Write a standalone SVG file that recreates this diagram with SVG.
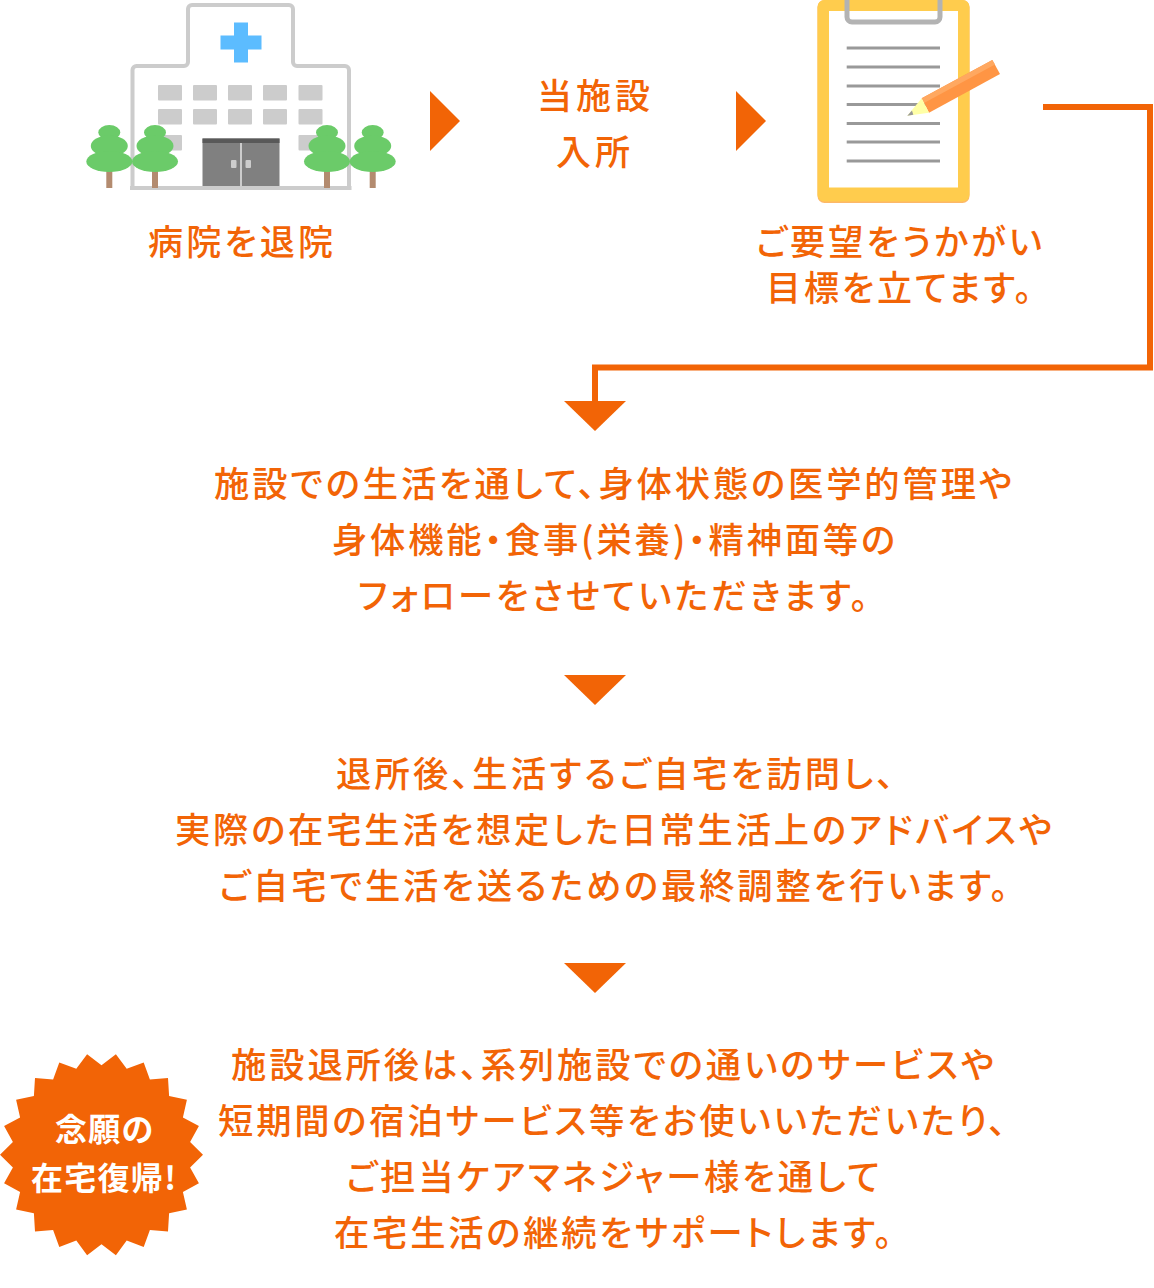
<svg xmlns="http://www.w3.org/2000/svg" width="1154" height="1288" viewBox="0 0 1154 1288">
<style>
text{font-family:"Noto Sans CJK JP","Noto Sans",sans-serif;font-weight:500;font-size:35.300px;fill:#f26406;font-feature-settings:"palt";}
.s{font-size:35px}
.b{font-size:32px;fill:#fff;font-weight:700}
.o{fill:#f26406}
.w{fill:#ccc}
.t{fill:#6bcb69}
.k{fill:#b38b6f}
.l{stroke:#999;stroke-width:3;fill:none}
</style>
<defs>
<g id="tree"><rect class="k" x="-3" y="168" width="6" height="20"/><ellipse class="t" cx="0" cy="132.500" rx="11" ry="7.500"/><ellipse class="t" cx="0" cy="146" rx="18.500" ry="10.500"/><ellipse class="t" cx="0" cy="161.500" rx="23" ry="10.500"/></g>
<polygon id="ad" class="o" points="-31,0 31,0 0,30"/>
<polygon id="ar" class="o" points="0,0 30,30 0,60"/>
</defs>
<rect width="1154" height="1288" fill="#fff"/>
<g id="hospital">
<path d="M132.500,188V70a4,4 0 0 1 4,-4H184a4,4 0 0 0 4,-4V9a4,4 0 0 1 4,-4H289a4,4 0 0 1 4,4V62a4,4 0 0 0 4,4H345a4,4 0 0 1 4,4V188" fill="#fff" stroke="#ccc" stroke-width="4"/>
<path d="M234,22.500h14v13h13.500v14H248v13h-14v-13H220.500v-14H234z" fill="#5cbcff"/>
<g class="w">
<rect x="158" y="85" width="24" height="15.500" rx="1"/><rect x="193" y="85" width="24" height="15.500" rx="1"/><rect x="228" y="85" width="24" height="15.500" rx="1"/><rect x="263" y="85" width="24" height="15.500" rx="1"/><rect x="298.500" y="85" width="24" height="15.500" rx="1"/>
<rect x="158" y="109" width="24" height="15.500" rx="1"/><rect x="193" y="109" width="24" height="15.500" rx="1"/><rect x="228" y="109" width="24" height="15.500" rx="1"/><rect x="263" y="109" width="24" height="15.500" rx="1"/><rect x="298.500" y="109" width="24" height="15.500" rx="1"/>
<rect x="158" y="135" width="24" height="15.500" rx="1"/><rect x="298.500" y="135" width="24" height="15.500" rx="1"/>
</g>
<rect x="202.500" y="138.500" width="77" height="48" fill="#808080"/>
<rect x="202.500" y="138.500" width="77" height="4.500" fill="#595959"/>
<rect x="240" y="143" width="2" height="44" fill="#ccc"/>
<rect x="231" y="160" width="5.500" height="8" rx="1" fill="#ccc"/>
<rect x="245.500" y="160" width="5.500" height="8" rx="1" fill="#ccc"/>
<rect x="130" y="186" width="221.500" height="4" fill="#ccc"/>
<use href="#tree" x="109.300"/><use href="#tree" x="155"/><use href="#tree" x="327"/><use href="#tree" x="372.700"/>
</g>
<g id="clipboard">
<rect x="817.500" y="0" width="152" height="203" rx="7" fill="#fdb868"/>
<rect x="817.500" y="0" width="152" height="201.500" rx="7" fill="#ffcc4d"/>
<rect x="829" y="11" width="129" height="176.500" fill="#fff"/>
<path d="M847,0V17a5,5 0 0 0 5,5H935a5,5 0 0 0 5,-5V0" fill="none" stroke="#b3b3b3" stroke-width="5"/>
<path class="l" d="M846.700,48H940M846.700,67H940M846.700,86H940M846.700,104.500H940M846.700,123.500H940M846.700,142H940M846.700,161H940"/>
<polygon points="921.700,98.300 992.300,60 1000,74 929,112.700" fill="#ff9544"/>
<polygon points="921.700,98.300 992.300,60 995,64.500 924,103" fill="#ffa860"/>
<polygon points="921.700,98.300 929,112.700 907.300,115.700" fill="#ffffa6"/>
<polygon points="912,110.500 913.300,114.800 907.300,115.700" fill="#999"/>
</g>
<g id="connectors">
<path d="M1043,107H1150V367.500H595V402" fill="none" stroke="#f26406" stroke-width="6"/>
<use href="#ar" x="430" y="91"/><use href="#ar" x="736" y="91"/>
<use href="#ad" x="595" y="401"/><use href="#ad" x="595" y="675"/><use href="#ad" x="595" y="963"/>
</g>
<g id="n-hospital"><text class="s" x="148" y="254.500" textLength="185">病院を退院</text></g>
<g id="n-facility"><text class="s" x="537" y="109" textLength="113">当施設</text><text class="s" x="556" y="165" textLength="74">入所</text></g>
<g id="n-request"><text class="s" x="756" y="254.500" textLength="286">ご要望をうかがい</text><text class="s" x="766" y="300.500" textLength="266">目標を立てます。</text></g>
<g id="n-step1"><text x="214" y="496.500" textLength="798">施設での生活を通して、身体状態の医学的管理や</text><text x="332" y="552.500" textLength="563">身体機能・食事(栄養)・精神面等の</text><text x="358" y="608.500" textLength="510">フォローをさせていただきます。</text></g>
<g id="n-step2"><text x="336" y="786.500" textLength="558">退所後、生活するご自宅を訪問し、</text><text x="175" y="842.500" textLength="877">実際の在宅生活を想定した日常生活上のアドバイスや</text><text x="219" y="898.500" textLength="789">ご自宅で生活を送るための最終調整を行います。</text></g>
<g id="n-step3"><text x="231" y="1077.500" textLength="763">施設退所後は、系列施設での通いのサービスや</text><text x="218" y="1133.500" textLength="788">短期間の宿泊サービス等をお使いいただいたり、</text><text x="346" y="1189.500" textLength="534">ご担当ケアマネジャー様を通して</text><text x="334" y="1245.500" textLength="558">在宅生活の継続をサポートします。</text></g>
<g id="badge">
<polygon class="o" points="203,1154.700 190.100,1167.400 198.900,1183.300 182.900,1191.900 186.900,1209.600 169.100,1213.300 168,1231.400 149.900,1230 143.700,1247 126.700,1240.600 115.900,1255.200 101.500,1244.200 87.100,1255.200 76.300,1240.600 59.300,1247 53.100,1230 35,1231.400 33.900,1213.300 16.100,1209.600 20.100,1191.900 4.100,1183.300 12.900,1167.400 0,1154.700 12.900,1142 4.100,1126.100 20.100,1117.500 16.100,1099.800 33.900,1096.100 35,1078 53.100,1079.400 59.300,1062.400 76.300,1068.800 87.100,1054.200 101.500,1065.200 115.900,1054.200 126.700,1068.800 143.700,1062.400 149.900,1079.400 168,1078 169.100,1096.100 186.900,1099.800 182.900,1117.500 198.900,1126.100 190.100,1142"/>
<text class="b" x="55" y="1140.500" textLength="98">念願の</text>
<text class="b" x="31" y="1189.500" textLength="145">在宅復帰!</text>
</g>
</svg>
